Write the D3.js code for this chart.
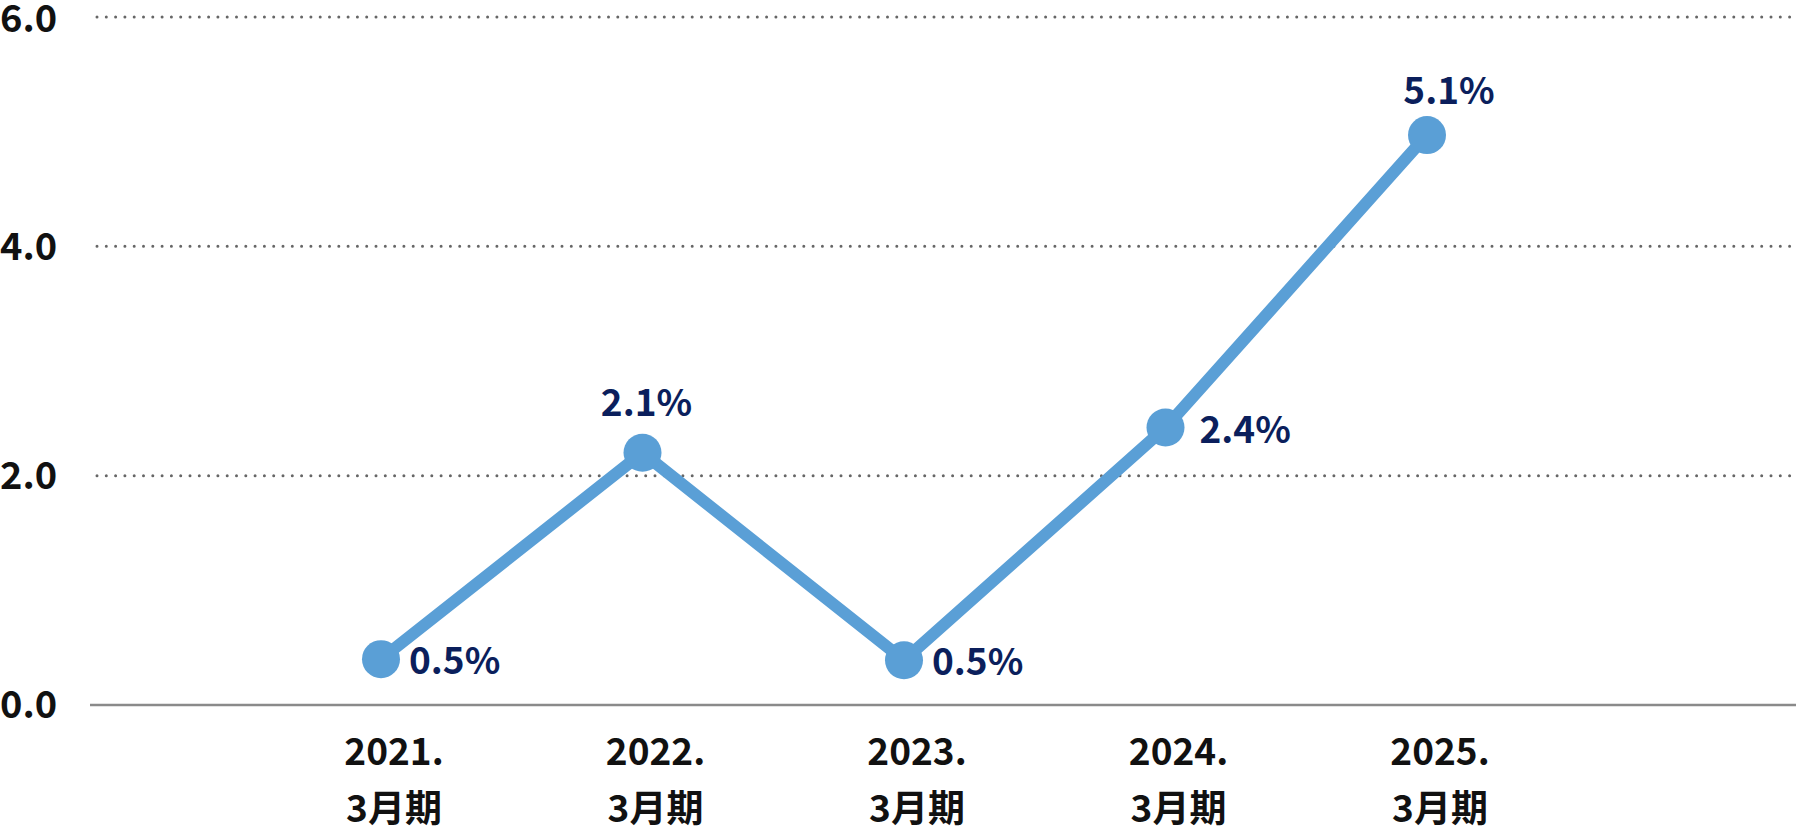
<!DOCTYPE html>
<html>
<head>
<meta charset="utf-8">
<script src="https://cdn.jsdelivr.net/npm/d3@7"></script>
<style>
  html, body { margin: 0; padding: 0; background: #fff; }
  svg { display: block; font-family: "Noto Sans CJK JP", "Noto Sans", sans-serif; font-weight: bold; }
</style>
</head>
<body>
<div id="chart"></div>
<script>
// values (marker positions) and the printed labels
const years = ['2021.', '2022.', '2023.', '2024.', '2025.']
const periodLabel = '3月期'
const values = [0.4, 2.2, 0.39, 2.42, 4.97]
const valueLabels = ['0.5%', '2.1%', '0.5%', '2.4%', '5.1%']
const yTicks = [0, 2, 4, 6]
// where each value label sits relative to its marker
const labelPlace = ['right', 'top', 'right', 'right', 'top']

const width = 1796, height = 835
const lineColor = '#5a9fd6'
const labelColor = '#0b1f5c'

const svg = d3.select('#chart').append('svg')
  .attr('width', width)
  .attr('height', height)

const x = d3.scalePoint().domain(years).range([381, 1427])
const y = d3.scaleLinear().domain([0, 6]).range([705, 17])

// grid lines
svg.append('g')
  .selectAll('line')
  .data(yTicks.filter(d => d > 0))
  .join('line')
  .attr('x1', 97)
  .attr('x2', width)
  .attr('y1', d => y(d))
  .attr('y2', d => y(d))
  .attr('stroke', '#666')
  .attr('stroke-width', 3)
  .attr('stroke-linecap', 'round')
  .attr('stroke-dasharray', '0 9.3')

// base line
svg.append('line')
  .attr('x1', 90)
  .attr('x2', width)
  .attr('y1', y(0))
  .attr('y2', y(0))
  .attr('stroke', '#8a8a8a')
  .attr('stroke-width', 2.6)

// y labels
svg.append('g')
  .selectAll('text')
  .data(yTicks)
  .join('text')
  .attr('x', 0)
  .attr('y', d => Math.max(y(d), 19))
  .attr('dy', '0.35em')
  .attr('font-size', 38)
  .attr('fill', '#111')
  .text(d => d3.format('.1f')(d))

// x labels
const xl = svg.append('g')
  .selectAll('g')
  .data(years)
  .join('g')
  .attr('transform', d => `translate(${x(d) + 13},0)`)
xl.append('text')
  .attr('y', 765)
  .attr('text-anchor', 'middle')
  .attr('font-size', 37)
  .attr('fill', '#111')
  .text(d => d)
xl.append('text')
  .attr('y', 822)
  .attr('text-anchor', 'middle')
  .attr('font-size', 37)
  .attr('fill', '#111')
  .text(periodLabel)

// line
const line = d3.line().x((d, i) => x(years[i])).y(d => y(d))
svg.append('path')
  .datum(values)
  .attr('d', line)
  .attr('fill', 'none')
  .attr('stroke', lineColor)
  .attr('stroke-width', 12)

svg.append('g')
  .selectAll('circle')
  .data(values)
  .join('circle')
  .attr('cx', (d, i) => x(years[i]))
  .attr('cy', d => y(d))
  .attr('r', 19)
  .attr('fill', lineColor)

// value labels
svg.append('g')
  .selectAll('text')
  .data(values)
  .join('text')
  .attr('x', (d, i) => labelPlace[i] === 'right' ? x(years[i]) + (i === 3 ? 34 : 28) : x(years[i]) + (i === 4 ? 22 : 4))
  .attr('y', (d, i) => labelPlace[i] === 'right' ? y(d) + 15 : y(d) - (i === 1 ? 37 : 31))
  .attr('text-anchor', (d, i) => labelPlace[i] === 'right' ? 'start' : 'middle')
  .attr('font-size', 37)
  .attr('fill', labelColor)
  .text((d, i) => valueLabels[i])
</script>
</body>
</html>
